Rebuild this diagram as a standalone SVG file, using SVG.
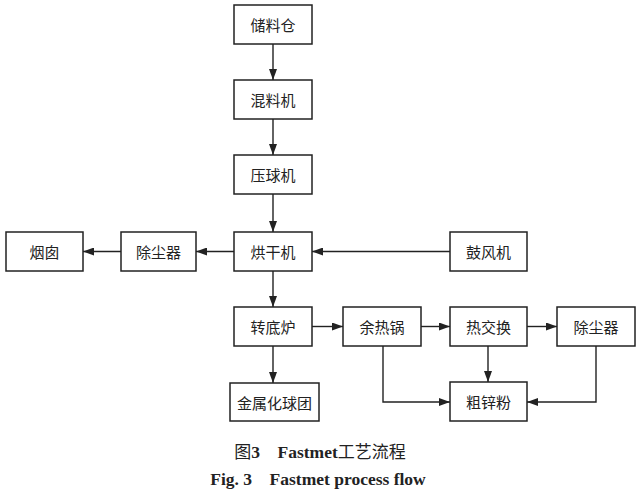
<svg xmlns="http://www.w3.org/2000/svg" width="640" height="495" viewBox="0 0 640 495">
<style>
.box{fill:#fff;stroke:#222;stroke-width:1.5}
.t{font-family:"Noto Sans CJK SC","Liberation Sans",sans-serif;font-size:15px;fill:#222;text-anchor:middle;dominant-baseline:central}
.ln{fill:none;stroke:#222;stroke-width:1.4}
.cap{font-family:"Liberation Serif","Noto Sans CJK SC",serif;font-size:17.5px;font-weight:bold;fill:#222;text-anchor:middle}
.cj{font-family:"Noto Sans CJK SC",sans-serif;font-weight:normal;font-size:17px}
</style>
<defs>
<marker id="ar" markerWidth="11" markerHeight="8" refX="11" refY="4" orient="auto" markerUnits="userSpaceOnUse">
<path d="M0,0 L11,4 L0,8 z" fill="#222"/>
</marker>
</defs>
<rect width="640" height="495" fill="#fff"/>
<g id="connectors">
<path class="ln" d="M273,44 V80" marker-end="url(#ar)"/>
<path class="ln" d="M273,119 V155" marker-end="url(#ar)"/>
<path class="ln" d="M273,194 V232" marker-end="url(#ar)"/>
<path class="ln" d="M450,251.5 H312" marker-end="url(#ar)"/>
<path class="ln" d="M234,251.5 H196" marker-end="url(#ar)"/>
<path class="ln" d="M121,251.5 H83" marker-end="url(#ar)"/>
<path class="ln" d="M273,271 V307" marker-end="url(#ar)"/>
<path class="ln" d="M273,346 V383" marker-end="url(#ar)"/>
<path class="ln" d="M312,326.5 H343" marker-end="url(#ar)"/>
<path class="ln" d="M421,326.5 H450" marker-end="url(#ar)"/>
<path class="ln" d="M527,326.5 H557" marker-end="url(#ar)"/>
<path class="ln" d="M383,346 V402 H450" marker-end="url(#ar)"/>
<path class="ln" d="M488,346 V382" marker-end="url(#ar)"/>
<path class="ln" d="M596,346 V402 H527" marker-end="url(#ar)"/>
</g>
<g id="n1"><rect class="box" x="234" y="5" width="78" height="39"/><text class="t" x="273" y="24.5">储料仓</text></g>
<g id="n2"><rect class="box" x="234" y="80" width="78" height="39"/><text class="t" x="273" y="99.5">混料机</text></g>
<g id="n3"><rect class="box" x="234" y="155" width="78" height="39"/><text class="t" x="273" y="174.5">压球机</text></g>
<g id="n4"><rect class="box" x="234" y="232" width="78" height="39"/><text class="t" x="273" y="251.5">烘干机</text></g>
<g id="n5"><rect class="box" x="121" y="232" width="75" height="39"/><text class="t" x="158.5" y="251.5">除尘器</text></g>
<g id="n6"><rect class="box" x="6" y="232" width="77" height="39"/><text class="t" x="44.5" y="251.5">烟囱</text></g>
<g id="n7"><rect class="box" x="450" y="232" width="77" height="39"/><text class="t" x="488.5" y="251.5">鼓风机</text></g>
<g id="n8"><rect class="box" x="234" y="307" width="78" height="39"/><text class="t" x="273" y="326.5">转底炉</text></g>
<g id="n9"><rect class="box" x="343" y="307" width="78" height="39"/><text class="t" x="382" y="326.5">余热锅</text></g>
<g id="n10"><rect class="box" x="450" y="307" width="77" height="39"/><text class="t" x="488.5" y="326.5">热交换</text></g>
<g id="n11"><rect class="box" x="557" y="307" width="78" height="39"/><text class="t" x="596" y="326.5">除尘器</text></g>
<g id="n12"><rect class="box" x="230" y="383" width="89" height="38"/><text class="t" x="274.5" y="402">金属化球团</text></g>
<g id="n13"><rect class="box" x="450" y="382" width="77" height="39"/><text class="t" x="488.5" y="401.5">粗锌粉</text></g>
<text class="cap" x="320" y="458" xml:space="preserve"><tspan class="cj">图</tspan>3    Fastmet<tspan class="cj">工艺流程</tspan></text>
<text class="cap" x="318" y="485" xml:space="preserve">Fig. 3    Fastmet process flow</text>
</svg>
